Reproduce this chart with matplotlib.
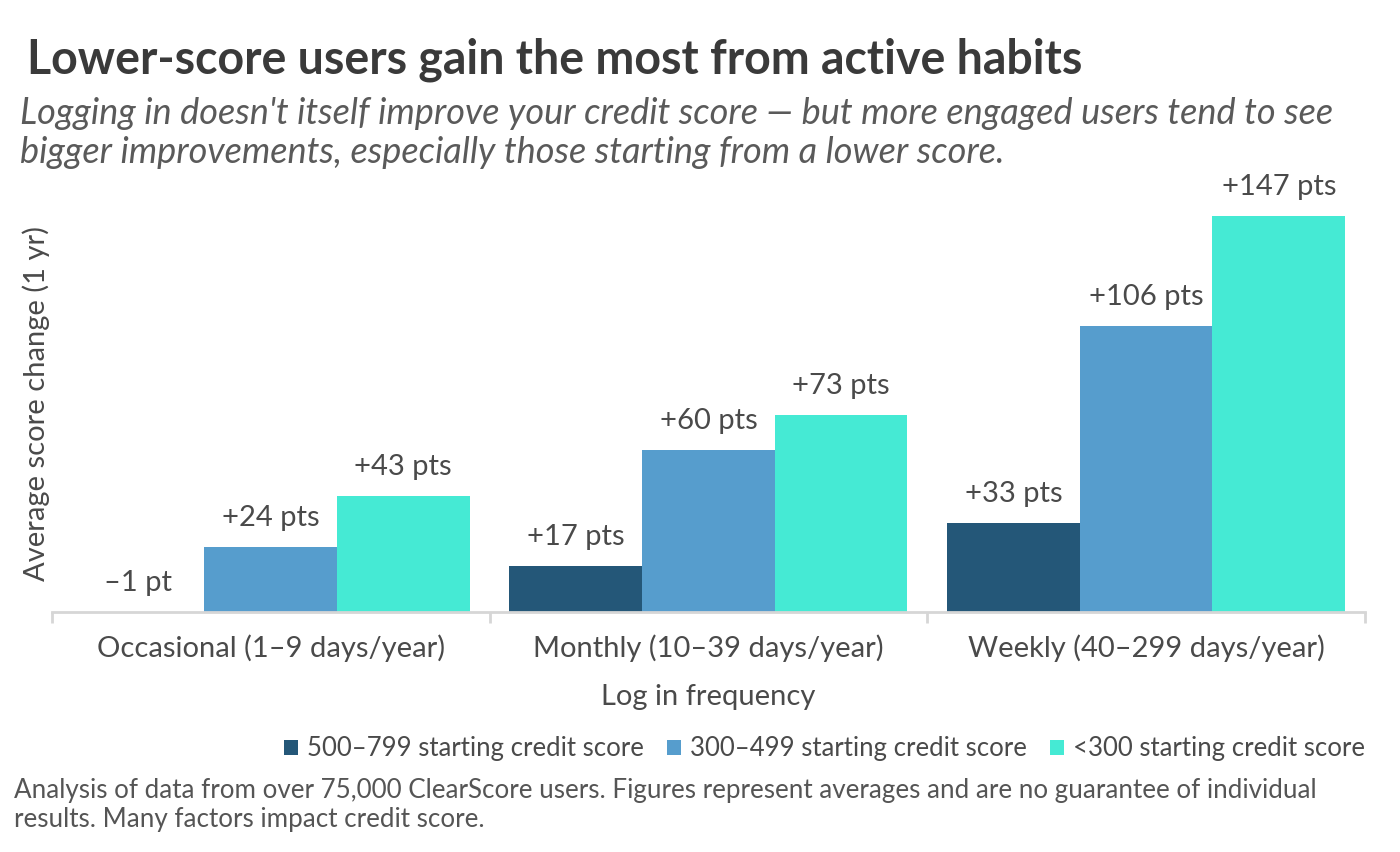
import numpy as np
import matplotlib.pyplot as plt

# data
groups = ["Occasional (1\u20139 days/year)", "Monthly (10\u201339 days/year)", "Weekly (40\u2013299 days/year)"]
series = ["500\u2013799 starting credit score", "300\u2013499 starting credit score", "<300 starting credit score"]
high_score = [-1, 17, 33]
mid_score = [24, 60, 106]
low_score = [43, 73, 147]
colors = ["#245778", "#569dcd", "#45eAd4"]

plt.rcParams['font.family'] = ['Lato', 'DejaVu Sans']
txt = "#4a4a4a"

fig = plt.figure(figsize=(14, 8.52), dpi=100)
ax = fig.add_axes([0.037, 0.2817, 0.938, 0.49])

x = np.arange(len(groups))
w = 0.303
for i, (vals, c, lab) in enumerate(zip([high_score, mid_score, low_score], colors, series)):
    pos = x + (i - 1) * w
    ax.bar(pos, vals, width=w, color=c, label=lab)
    for p, v in zip(pos, vals):
        s = f"+{v} pts" if v > 0 else f"\u2013{abs(v)} pt"
        ax.text(p, max(v, 0) + 6, s, ha="center", va="bottom", fontsize=21, color=txt)

ax.set_xlim(-0.5, 2.5)
ax.set_ylim(0, 155)
ax.set_yticks([])
ax.set_xticks(x)
ax.set_xticklabels(groups, fontsize=21, color=txt)
ax.set_xticks([-0.5, 0.5, 1.5, 2.5], minor=True)
ax.tick_params(axis="x", which="major", length=0, pad=16)
ax.tick_params(axis="x", which="minor", length=8, color="#d6d6d6", width=2)
for s in ["top", "right", "left"]:
    ax.spines[s].set_visible(False)
ax.spines["bottom"].set_color("#d6d6d6")
ax.spines["bottom"].set_linewidth(2)
ax.set_xlabel("Log in frequency", fontsize=21, color=txt, labelpad=16)
ax.set_ylabel("Average score change (1 yr)", fontsize=21, color=txt, labelpad=1)

fig.text(0.019, 0.93, "Lower-score users gain the most from active habits",
         fontsize=33.5, fontweight="bold", color="#3a3a3a", va="center")
fig.text(0.014, 0.844,
         "Logging in doesn't itself improve your credit score \u2014 but more engaged users tend to see\n"
         "bigger improvements, especially those starting from a lower score.",
         fontsize=26, style="italic", color="#5a5a5a", va="center", linespacing=1.22)

leg = ax.legend(loc="center right", bbox_to_anchor=(1.0, -0.328), ncol=3, frameon=False,
                fontsize=18.5, handlelength=0.55, handleheight=0.55, handletextpad=0.35,
                columnspacing=0.9, labelcolor=txt, borderaxespad=0, borderpad=0)

fig.text(0.01, 0.055,
         "Analysis of data from over 75,000 ClearScore users. Figures represent averages and are no guarantee of individual\n"
         "results. Many factors impact credit score.",
         fontsize=18.7, color="#555555", va="center", linespacing=1.2)

fig.savefig("out.png", dpi=100)
